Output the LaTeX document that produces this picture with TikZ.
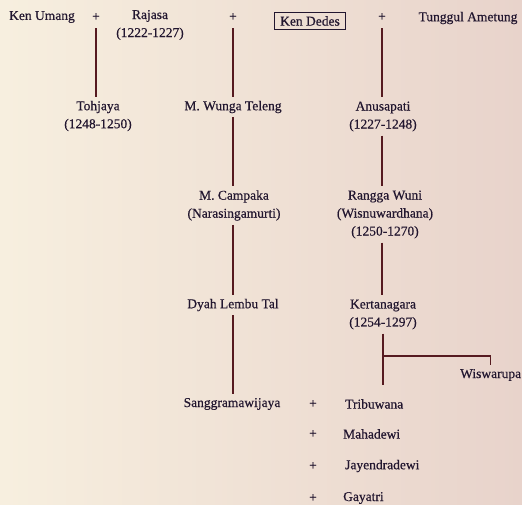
\documentclass[tikz,border=0pt]{standalone}
\usepackage{fontspec}
\setmainfont[FakeBold=0.5]{Liberation Serif}
\definecolor{ink}{HTML}{22162F}
\definecolor{lineC}{HTML}{561A20}
\definecolor{bgL}{HTML}{F7EFDF}
\definecolor{bgR}{HTML}{E8D3CB}
\begin{document}
\begin{tikzpicture}[x=1pt,y=-1pt,
  txt/.style={text=ink,font=\fontsize{13.5}{18}\selectfont,inner sep=2pt,align=center},
  boxed/.style={txt,draw=ink,line width=1.1pt,inner xsep=6pt,minimum height=17pt},
  link/.style={draw=lineC,line width=1.3pt,shorten <=2pt,shorten >=2pt},
  fromplus/.style={link,shorten <=5pt},
]
\useasboundingbox (0,0) rectangle (522,505);
\fill[left color=bgL,right color=bgR] (0,0) rectangle (522,505);
\clip (0,0) rectangle (522,505);
% top row
\node[txt] (umang) at (42,17) {Ken Umang};
\node[txt] (p1) at (96,17) {+};
\node[txt] (rajasa) at (150,25) {Rajasa\\(1222-1227)};
\node[txt] (p2) at (233,17) {+};
\node[boxed] (dedes) at (310,21) {Ken Dedes};
\node[txt] (p3) at (382,17) {+};
\node[txt] (tunggul) at (468,18) {Tunggul Ametung};
% second row
\node[txt] (tohjaya) at (98,116) {Tohjaya\\(1248-1250)};
\node[txt] (wunga) at (233,107) {M. Wunga Teleng};
\node[txt] (anusapati) at (383,116.5) {Anusapati\\(1227-1248)};
% third row
\node[txt] (campaka) at (234,205.5) {M. Campaka\\(Narasingamurti)};
\node[txt] (rangga) at (385,214.5) {Rangga Wuni\\(Wisnuwardhana)\\(1250-1270)};
% fourth row
\node[txt] (dyah) at (233,305) {Dyah Lembu Tal};
\node[txt] (kerta) at (383,314.5) {Kertanagara\\(1254-1297)};
\node[txt,anchor=west] (wisw) at (458,375) {Wiswarupa};
% bottom
\node[txt] (sangg) at (232,404) {Sanggramawijaya};
\node[txt] (q1) at (313,404) {+};
\node[txt,anchor=west] (trib) at (343,404) {Tribuwana};
\node[txt] (q2) at (313,434) {+};
\node[txt,anchor=west] (maha) at (341,434) {Mahadewi};
\node[txt] (q3) at (313,466) {+};
\node[txt,anchor=west] (jaye) at (343,466) {Jayendradewi};
\node[txt] (q4) at (313,498) {+};
\node[txt,anchor=west] (gaya) at (341,498) {Gayatri};
\coordinate (kend) at (383,385);
\coordinate (br) at (383,356);
% connectors
\draw[fromplus] (p1.south) -- (p1.south |- tohjaya.north);
\draw[fromplus] (p2.south) -- (p2.south |- wunga.north);
\draw[link] (wunga.south) -- (wunga.south |- campaka.north);
\draw[link] (campaka.south -| wunga.south) -- (wunga.south |- dyah.north);
\draw[link] (dyah.south) -- (dyah.south |- sangg.north);
\draw[fromplus] (p3.south) -- (p3.south |- anusapati.north);
\draw[link] (anusapati.south -| p3.south) -- (p3.south |- rangga.north);
\draw[link] (rangga.south -| p3.south) -- (p3.south |- kerta.north);
\draw[link,shorten >=0pt] (kerta.south -| kend) -- (kend);
\draw[link,shorten <=0pt] (br) -| (wisw.north);
\end{tikzpicture}
\end{document}
